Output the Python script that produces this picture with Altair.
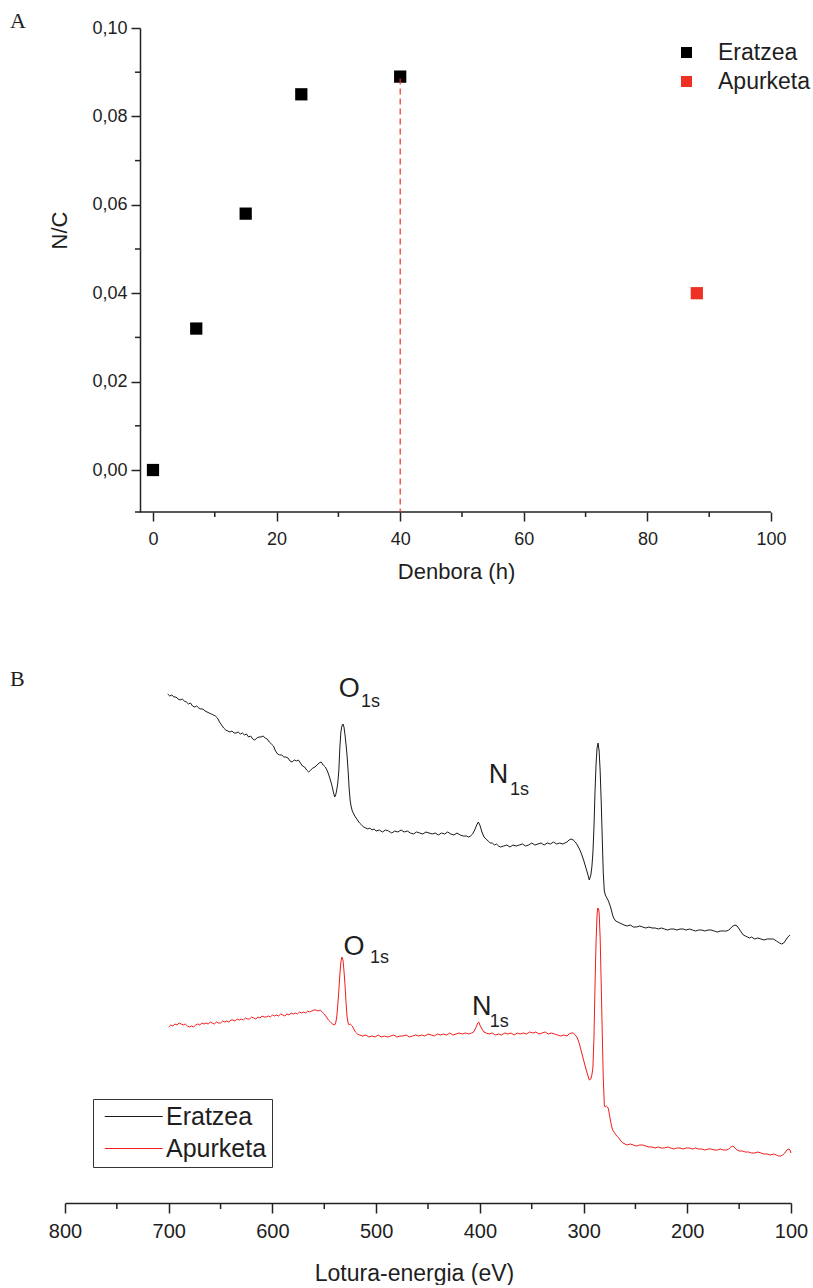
import altair as alt
import pandas as pd

# ---------------- Panel A data ----------------
time_h = [0, 7, 15, 24, 40, 88]
nc_ratio = [0.000, 0.032, 0.058, 0.085, 0.089, 0.040]
stage = ["Eratzea", "Eratzea", "Eratzea", "Eratzea", "Eratzea", "Apurketa"]
series_names = ["Eratzea", "Apurketa"]
colors_a = ["#000000", "#ee3124"]
colors_b = ["#1a1a1a", "#f21c1c"]

y_major = [0.00, 0.02, 0.04, 0.06, 0.08, 0.10]
y_minor = [0.01, 0.03, 0.05, 0.07, 0.09]
x_major = [0, 20, 40, 60, 80, 100]
x_minor = [10, 30, 50, 70, 90]
cut_time = [40]
cut_top = [0.0886]

# ---------------- Panel B data (XPS survey spectra) ----------------
E_black = [701, 699, 697, 695, 693, 691, 689, 687, 685, 683, 681, 679, 677, 675, 673, 671, 669, 667,
           665, 663, 661, 659, 657, 655, 653, 651, 649, 647, 645, 643, 641, 639, 637, 635, 633, 631,
           629, 627, 625, 623, 621, 619, 617, 615, 613, 611, 609, 607, 605, 603, 601, 599, 597, 595,
           593, 591, 589, 587, 585, 583, 581, 579, 577, 575, 573, 571, 569, 567, 565, 563, 561, 559,
           557, 555, 553, 551, 549, 547, 545, 543, 541, 540, 539, 538, 537, 536, 535, 534, 533, 532,
           531, 530, 529, 528, 527, 526, 525, 524, 523, 522, 520, 518, 516, 514, 512, 510, 508, 506,
           504, 502, 500, 497, 494, 491, 488, 485, 482, 479, 476, 473, 470, 467, 464, 461, 458, 455,
           452, 449, 446, 443, 440, 437, 434, 431, 428, 425, 422, 419, 416, 413, 411, 409, 407, 405,
           403, 401.5, 400, 398, 396, 394, 392, 390, 388, 386, 384, 382, 380, 377, 374, 371, 368, 365,
           362, 359, 356, 353, 350, 347, 344, 341, 338, 335, 332, 329, 326, 323, 320, 318, 316, 314,
           312, 310, 308, 306, 304, 302, 300, 298, 296, 294.5, 293, 292, 291, 290, 289, 288, 287, 286,
           285, 284, 283, 282, 281, 280, 279, 278, 277, 276, 275, 274, 273, 272, 271, 269, 267, 265,
           263, 261, 258, 255, 252, 249, 246, 243, 240, 237, 234, 231, 228, 225, 222, 219, 216, 213,
           210, 207, 204, 201, 198, 195, 192, 189, 186, 183, 180, 177, 174, 171, 168, 165, 162, 160,
           158, 156, 154, 152, 150, 148, 146, 144, 142, 140, 138, 135, 132, 129, 126, 123, 120, 117,
           114, 111, 109, 107, 105, 103, 101]
I_black = [509, 507, 508, 506, 506, 504, 503, 504, 502, 501, 499, 500, 497, 496, 497, 495, 494, 494,
           492, 491, 490, 489, 488, 487, 485, 481, 478, 475, 473, 472, 471, 472, 470, 470, 471, 469,
           470, 468, 469, 466, 467, 464, 463, 465, 466, 466, 467, 465, 464, 461, 459, 457, 452, 449,
           448, 448, 446, 446, 445, 442, 441, 443, 442, 443, 440, 437, 436, 433, 431, 433, 435, 436,
           438, 440, 441, 438, 436, 432, 426, 419, 410, 406, 408, 413, 420, 432, 455, 471, 477, 479,
           476, 468, 458, 447, 432, 414, 402, 396, 392, 390, 386, 383, 380, 378, 376, 375, 374, 375,
           373, 374, 372, 373, 371, 373, 372, 370, 372, 371, 373, 371, 372, 370, 369, 371, 370, 369,
           371, 370, 369, 370, 368, 370, 369, 371, 369, 368, 370, 368, 367, 367, 366, 367, 369, 373,
           378, 381, 378, 371, 366, 364, 362, 360, 360, 358, 359, 357, 356, 357, 358, 356, 358, 357,
           358, 359, 357, 358, 360, 358, 359, 360, 358, 360, 359, 361, 359, 360, 359, 360, 361, 363,
           364, 363, 361, 358, 354, 349, 343, 336, 329, 323, 328, 336, 350, 375, 410, 438, 455, 460,
           452, 432, 402, 365, 330, 312, 308, 306, 304, 302, 299, 296, 292, 288, 285, 282, 281, 280,
           279, 278, 277, 278, 276, 276, 277, 276, 275, 276, 275, 275, 274, 275, 274, 273, 274, 274,
           273, 274, 274, 273, 274, 273, 272, 273, 273, 272, 273, 273, 272, 271, 272, 272, 272, 273,
           275, 277, 278, 277, 274, 271, 268, 267, 266, 265, 266, 264, 265, 264, 263, 264, 264, 264,
           262, 260, 259, 260, 263, 266, 268]

E_red = [700, 698, 696, 694, 692, 690, 688, 686, 684, 682, 680, 678, 676, 674, 672, 670, 668, 666,
         664, 662, 660, 658, 656, 654, 652, 650, 648, 646, 644, 642, 640, 638, 636, 634, 632, 630,
         628, 626, 624, 622, 620, 618, 616, 614, 612, 610, 608, 606, 604, 602, 600, 598, 596, 594,
         592, 590, 588, 586, 584, 582, 580, 578, 576, 574, 572, 570, 568, 566, 564, 562, 560, 558,
         556, 554, 552, 550, 548, 546, 544, 542, 540, 539, 538, 537, 536, 535, 534, 533, 532, 531,
         530, 529, 528, 527, 526, 525, 524, 523, 522, 520, 518, 516, 513, 510, 507, 504, 501, 498,
         495, 492, 489, 486, 483, 480, 477, 474, 471, 468, 465, 462, 459, 456, 453, 450, 447, 444,
         441, 438, 435, 432, 429, 426, 423, 420, 417, 414, 411, 408, 406, 404, 402, 401, 400, 398,
         396, 394, 391, 388, 385, 382, 379, 376, 373, 370, 367, 364, 361, 358, 355, 352, 349, 346,
         343, 340, 337, 334, 331, 328, 325, 322, 319, 316, 314, 312, 310, 308, 306, 304, 302, 300,
         298, 296, 294.5, 293, 292, 291, 290, 289, 288, 287, 286.4, 285.5, 285, 284, 283, 282, 281,
         280, 279, 278, 277, 276, 275, 274, 273, 272, 270, 268, 266, 264, 262, 260, 258, 255, 252,
         249, 246, 243, 240, 237, 234, 231, 228, 225, 222, 219, 216, 213, 210, 207, 204, 201, 198,
         195, 192, 189, 186, 183, 180, 177, 174, 171, 168, 165, 162, 160, 158, 156, 154, 152, 150,
         147, 144, 141, 138, 135, 132, 129, 126, 123, 120, 117, 114, 112, 110, 108, 106, 104, 102,
         101, 100]
I_red = [176, 178, 177, 179, 178, 180, 179, 178, 179, 177, 176, 177, 176, 178, 179, 178, 180, 179,
         180, 179, 181, 180, 179, 181, 180, 180, 182, 181, 182, 181, 183, 183, 182, 184, 183, 184,
         183, 185, 184, 184, 186, 185, 184, 186, 185, 187, 186, 186, 187, 186, 188, 187, 188, 187,
         189, 188, 187, 189, 188, 190, 189, 190, 189, 191, 190, 191, 190, 192, 191, 192, 193, 193,
         192, 193, 191, 189, 186, 183, 181, 179, 178, 180, 186, 198, 212, 228, 241, 246, 243, 232,
         218, 200, 186, 180, 178, 179, 178, 177, 175, 171, 169, 168, 167, 168, 166, 167, 166, 168,
         166, 167, 166, 167, 168, 166, 167, 167, 168, 166, 167, 168, 167, 168, 167, 169, 168, 167,
         169, 168, 169, 168, 170, 168, 169, 170, 169, 170, 169, 170, 171, 175, 180, 181, 178, 174,
         171, 170, 169, 170, 168, 169, 168, 170, 169, 170, 168, 170, 169, 170, 169, 171, 170, 171,
         169, 170, 171, 169, 170, 169, 168, 167, 168, 167, 169, 170, 170, 168, 165, 159, 151, 143,
         135, 128, 123, 124, 128, 135, 165, 215, 260, 288, 295, 294, 290, 265, 220, 170, 125,
         98, 96, 97, 96, 94, 88, 82, 77, 73, 70, 67, 65, 62, 60, 59, 58, 59, 58,
         57, 58, 58, 57, 56, 56, 55, 56, 55, 55, 56, 55, 54, 55, 55, 54, 55, 55,
         54, 55, 54, 54, 53, 54, 54, 53, 53, 54, 53, 53, 54, 56, 57, 55, 53, 52,
         52, 51, 51, 50, 50, 51, 50, 49, 49, 48, 49, 48, 47, 47, 48, 50, 53, 54,
         53, 50]

ev_major = [100, 200, 300, 400, 500, 600, 700, 800]
ev_minor = [150, 250, 350, 450, 550, 650, 750]

peak_letter = ["O", "N", "O", "N"]
peak_sub = ["1s", "1s", "1s", "1s"]
peak_E = [536.0, 391.5, 531.5, 407.5]
peak_I = [506, 420, 248, 188]
sub_E = [514.5, 371.0, 506.0, 390.5]
sub_I = [496, 408, 240, 176]

# ---------------- style / layout ----------------
FONT = "Liberation Sans"
SERIF = "Liberation Serif"
TXT = "#1e1e1e"
AX = "#222222"
A_W, A_H = 706, 484
B_W, B_H = 726, 517
SHIFT = 75                      # y-axis of panel A sits this far right of panel B's origin
X_AXIS_START = -2.1
X_MAX = 100
x_dom_min = X_AXIS_START - SHIFT * (X_MAX - X_AXIS_START) / (A_W - SHIFT)
Y_MIN, Y_MAX = -0.0095, 0.10

xsA = alt.Scale(domain=[x_dom_min, X_MAX], nice=False, zero=False)
ysA = alt.Scale(domain=[Y_MIN, Y_MAX], nice=False, zero=False)

axA_x = alt.Axis(values=x_major, domain=False, tickSize=9, labelFontSize=18, labelPadding=9,
                 labelFlush=False, labelOverlap=False,
                 title="Denbora (h)", titleFontSize=22, titleX=391, titleY=66,
                 titleBaseline="alphabetic", titleAlign="center")
axA_y = alt.Axis(values=y_major, offset=-SHIFT, tickSize=9, labelFontSize=18, labelPadding=4,
                 labelExpr="replace(format(datum.value, '.2f'), '.', ',')",
                 labelFlush=False, labelOverlap=False,
                 title="N/C", titleFontSize=22, titleAngle=270, titleX=-81, titleY=202,
                 titleAlign="center", titleBaseline="middle")


def xa(field):
    return alt.X(field, type="quantitative", scale=xsA, axis=axA_x)


def ya(field):
    return alt.Y(field, type="quantitative", scale=ysA, axis=axA_y)


dfA = pd.DataFrame({"t": time_h, "nc": nc_ratio, "series": stage})

points = alt.Chart(dfA).mark_square(size=150, opacity=1).encode(
    x=xa("t"), y=ya("nc"),
    color=alt.Color("series:N", scale=alt.Scale(domain=series_names, range=colors_a),
                    legend=alt.Legend(orient="none", legendX=610, legendY=13, title=None,
                                      symbolType="square", symbolSize=121, symbolStrokeWidth=0,
                                      symbolOpacity=1, labelFont=FONT, labelFontSize=23,
                                      labelColor=TXT, labelOffset=20, rowPadding=5, padding=0)),
)

x_axis_line = alt.Chart(pd.DataFrame({"t": [X_AXIS_START], "t2": [X_MAX], "nc": [Y_MIN]})).mark_rule(
    color=AX, strokeWidth=1.5, xOffset=-5).encode(x=xa("t"), x2="t2:Q", y=ya("nc"))

minor_y = alt.Chart(pd.DataFrame({"nc": y_minor, "t": [X_AXIS_START] * len(y_minor)})).mark_rule(
    color=AX, strokeWidth=1.5, x2Offset=-5).encode(x=xa("t"), x2="t:Q", y=ya("nc"))

minor_x = alt.Chart(pd.DataFrame({"t": x_minor, "nc": [Y_MIN] * len(x_minor)})).mark_rule(
    color=AX, strokeWidth=1.5, y2Offset=5).encode(x=xa("t"), y=ya("nc"), y2="nc:Q")

cut_line = alt.Chart(pd.DataFrame({"t": cut_time, "nc": cut_top, "nc2": [Y_MIN]})).mark_rule(
    color="#ee3124", strokeWidth=1.2, strokeDash=[6, 4]).encode(x=xa("t"), y=ya("nc"), y2="nc2:Q")

label_a = alt.Chart(pd.DataFrame({"p": ["A"]})).mark_text(
    font=SERIF, fontSize=22, align="left", baseline="alphabetic", color=TXT).encode(
    text="p:N", x=alt.value(-55), y=alt.value(0))

panel_a = alt.layer(points, x_axis_line, minor_y, minor_x, cut_line, label_a).properties(
    width=A_W, height=A_H)

# ---------------- Panel B ----------------
xsB = alt.Scale(domain=[100, 800], reverse=True, nice=False, zero=False)
ysB = alt.Scale(domain=[0, B_H], nice=False, zero=False)
axB_x = alt.Axis(values=ev_major, tickSize=10, labelFontSize=20, labelPadding=8,
                 labelFlush=False, labelOverlap=False,
                 title="Lotura-energia (eV)", titleFontSize=23, titleX=349, titleY=77,
                 titleBaseline="alphabetic", titleAlign="center")


def xb(field):
    return alt.X(field, type="quantitative", scale=xsB, axis=axB_x)


def yb(field):
    return alt.Y(field, type="quantitative", scale=ysB, axis=None)


dfB = pd.DataFrame({
    "E": E_black + E_red,
    "I": I_black + I_red,
    "series": ["Eratzea"] * len(E_black) + ["Apurketa"] * len(E_red),
})

lines = alt.Chart(dfB).mark_line(strokeWidth=1).encode(
    x=xb("E"), y=yb("I"),
    color=alt.Color("series:N", scale=alt.Scale(domain=series_names, range=colors_b),
                    legend=alt.Legend(orient="none", legendX=28, legendY=413, title=None,
                                      symbolType="M-1,0H9", symbolSize=134.56,
                                      symbolStrokeWidth=1.2, symbolOpacity=1,
                                      labelFont=FONT, labelFontSize=25, labelColor=TXT,
                                      labelOffset=43, rowPadding=6, padding=5,
                                      strokeColor="#333333", fillColor="#ffffff")),
)

minor_b = alt.Chart(pd.DataFrame({"E": ev_minor, "I": [0] * len(ev_minor)})).mark_rule(
    color=AX, strokeWidth=1.5, y2Offset=6).encode(x=xb("E"), y=yb("I"), y2="I:Q")

dfP = pd.DataFrame({"letter": peak_letter, "E": peak_E, "I": peak_I})
dfS = pd.DataFrame({"sub": peak_sub, "E": sub_E, "I": sub_I})
peak_text = alt.Chart(dfP).mark_text(font=FONT, fontSize=27, align="left",
                                     baseline="alphabetic", color=TXT).encode(
    x=xb("E"), y=yb("I"), text="letter:N")
sub_text = alt.Chart(dfS).mark_text(font=FONT, fontSize=18, align="left",
                                    baseline="alphabetic", color=TXT).encode(
    x=xb("E"), y=yb("I"), text="sub:N")

label_b = alt.Chart(pd.DataFrame({"p": ["B"]})).mark_text(
    font=SERIF, fontSize=22, align="left", baseline="alphabetic", color=TXT).encode(
    text="p:N", x=alt.value(-55), y=alt.value(0))

panel_b = alt.layer(lines, minor_b, peak_text, sub_text, label_b).properties(width=B_W, height=B_H)

chart = alt.vconcat(panel_a, panel_b, spacing=86).resolve_scale(
    color="independent").resolve_legend(color="independent").properties(
    padding={"left": 10, "top": 10, "right": 0, "bottom": 0}, background="#ffffff"
).configure_view(stroke=None).configure_axis(
    grid=False, domainColor=AX, domainWidth=1.5, tickColor=AX, tickWidth=1.5,
    labelColor=TXT, labelFont=FONT, titleFont=FONT, titleColor=TXT, titleFontWeight="normal"
)

chart.save("out.html", embed_options={"renderer": "svg", "actions": False})
